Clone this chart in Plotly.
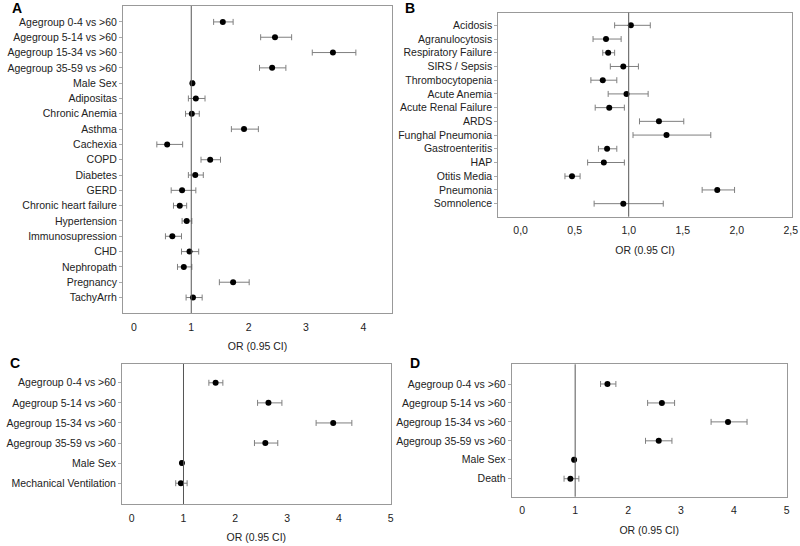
import plotly.graph_objects as go

# ---------------- data ----------------
a_labels = ["Agegroup 0-4 vs >60", "Agegroup 5-14 vs >60", "Agegroup 15-34 vs >60",
            "Agegroup 35-59 vs >60", "Male Sex", "Adipositas", "Chronic Anemia", "Asthma",
            "Cachexia", "COPD", "Diabetes", "GERD", "Chronic heart failure", "Hypertension",
            "Immunosupression", "CHD", "Nephropath", "Pregnancy", "TachyArrh"]
a_or = [1.55, 2.46, 3.47, 2.41, 1.02, 1.08, 1.01, 1.92, 0.58, 1.33, 1.07, 0.84, 0.80, 0.92,
        0.67, 0.97, 0.87, 1.73, 1.03]
a_lo = [1.39, 2.21, 3.11, 2.19, 0.99, 0.95, 0.90, 1.70, 0.40, 1.17, 0.95, 0.65, 0.69, 0.84,
        0.55, 0.83, 0.76, 1.49, 0.91]
a_hi = [1.73, 2.75, 3.87, 2.65, 1.04, 1.24, 1.14, 2.17, 0.85, 1.51, 1.21, 1.08, 0.92, 1.01,
        0.83, 1.13, 1.01, 2.01, 1.19]

b_labels = ["Acidosis", "Agranulocytosis", "Respiratory Failure", "SIRS / Sepsis",
            "Thrombocytopenia", "Acute Anemia", "Acute Renal Failure", "ARDS",
            "Funghal Pneumonia", "Gastroenteritis", "HAP", "Otitis Media", "Pneumonia",
            "Somnolence"]
b_or = [1.02, 0.79, 0.81, 0.95, 0.76, 0.98, 0.82, 1.28, 1.35, 0.80, 0.77, 0.475, 1.82, 0.95]
b_lo = [0.87, 0.67, 0.76, 0.83, 0.65, 0.81, 0.69, 1.10, 1.04, 0.72, 0.62, 0.41, 1.68, 0.68]
b_hi = [1.20, 0.93, 0.87, 1.09, 0.89, 1.18, 0.96, 1.51, 1.76, 0.89, 0.96, 0.55, 1.98, 1.32]
b_ticks = [0.0, 0.5, 1.0, 1.5, 2.0, 2.5]
b_ticktext = ["0,0", "0,5", "1,0", "1,5", "2,0", "2,5"]

c_labels = ["Agegroup 0-4 vs >60", "Agegroup 5-14 vs >60", "Agegroup 15-34 vs >60",
            "Agegroup 35-59 vs >60", "Male Sex", "Mechanical Ventilation"]
c_or = [1.62, 2.64, 3.89, 2.58, 0.97, 0.95]
c_lo = [1.49, 2.43, 3.56, 2.37, 0.95, 0.85]
c_hi = [1.76, 2.90, 4.25, 2.82, 0.99, 1.07]

d_labels = ["Agegroup 0-4 vs >60", "Agegroup 5-14 vs >60", "Agegroup 15-34 vs >60",
            "Agegroup 35-59 vs >60", "Male Sex", "Death"]
d_or = [1.61, 2.64, 3.89, 2.58, 0.98, 0.91]
d_lo = [1.48, 2.37, 3.57, 2.33, 0.96, 0.79]
d_hi = [1.77, 2.88, 4.25, 2.83, 1.00, 1.07]

ac_ticks = [0, 1, 2, 3, 4]
cd_ticks = [0, 1, 2, 3, 4, 5]
x_title = "OR (0.95 CI)"

# ---------------- layout helpers ----------------
W, H = 800, 546
FONT = "Liberation Sans, Arial, sans-serif"
FS = 10.5

def px_x(v):
    return v / W

def px_y(v):
    return 1 - v / H

panels = [
    ("A", a_labels, a_or, a_lo, a_hi, (123, 392, 6, 313), [-0.19, 4.5], (1.04, 1.01), ac_ticks, None, (10, 8)),
    ("B", b_labels, b_or, b_lo, b_hi, (498.3, 791.7, 12.7, 216.7), [-0.207, 2.509], (0.92, 0.95), b_ticks, b_ticktext, (403, 8)),
    ("C", c_labels, c_or, c_lo, c_hi, (122, 390.7, 364, 504), [-0.187, 5.0], (0.935, 1.035), cd_ticks, None, (8, 363)),
    ("D", d_labels, d_or, d_lo, d_hi, (511.7, 786.7, 364.3, 496.7), [-0.2, 5.0], (1.04, 0.95), cd_ticks, None, (408, 363)),
]

fig = go.Figure()
annotations = []
shapes = []

for i, (key, labels, orv, lo, hi, box, xr, pad, xt, xtt, lpos) in enumerate(panels):
    n = i + 1
    xa = "x" if n == 1 else f"x{n}"
    ya = "y" if n == 1 else f"y{n}"
    left, right, top, bottom = box
    ys = list(range(len(labels)))
    fig.add_trace(go.Scatter(
        x=orv, y=ys, xaxis=xa, yaxis=ya, mode="markers",
        marker=dict(color="black", size=6, symbol="circle"),
        error_x=dict(type="data", symmetric=False,
                     array=[h - o for h, o in zip(hi, orv)],
                     arrayminus=[o - l for o, l in zip(orv, lo)],
                     color="#7f7f7f", thickness=1, width=3),
        showlegend=False, hoverinfo="skip"))
    xkey = "xaxis" if n == 1 else f"xaxis{n}"
    ykey = "yaxis" if n == 1 else f"yaxis{n}"
    fig.layout[xkey] = dict(
        domain=[px_x(left), px_x(right)], anchor=ya, range=xr, automargin=False,
        tickmode="array", tickvals=xt, ticktext=xtt if xtt else [str(t) for t in xt],
        showgrid=False, zeroline=False, showline=True, mirror=True,
        linecolor="#999999", linewidth=1,
        ticks="outside", ticklen=4, tickcolor="rgba(0,0,0,0)",
        tickfont=dict(family=FONT, size=FS, color="#222222"),
        title=dict(text=x_title, font=dict(family=FONT, size=FS, color="#222222"), standoff=11),
    )
    fig.layout[ykey] = dict(
        domain=[px_y(bottom), px_y(top)], anchor=xa, automargin=False,
        range=[len(labels) - 1 + pad[1], -pad[0]],
        tickmode="array", tickvals=ys, ticktext=labels,
        showgrid=False, zeroline=False, showline=True, mirror=True,
        linecolor="#999999", linewidth=1,
        ticks="outside", ticklen=3, tickcolor="#aaaaaa",
        tickfont=dict(family=FONT, size=FS, color="#222222"),
    )
    shapes.append(dict(type="line", xref=xa, yref=f"{ya} domain", x0=1, x1=1, y0=0, y1=1,
                       line=dict(color="#555555", width=1)))
    annotations.append(dict(text=f"<b>{key}</b>", xref="paper", yref="paper",
                            x=px_x(lpos[0]), y=px_y(lpos[1]), xanchor="left", yanchor="middle",
                            showarrow=False, font=dict(family=FONT, size=14, color="black")))

fig.update_layout(
    width=W, height=H, margin=dict(l=0, r=0, t=0, b=0),
    paper_bgcolor="white", plot_bgcolor="white",
    shapes=shapes, annotations=annotations,
    font=dict(family=FONT, size=FS, color="#222222"),
)

fig.write_html("out.html", config={"displayModeBar": False},
               post_script="document.body.style.margin='0';document.body.style.overflow='hidden';")
